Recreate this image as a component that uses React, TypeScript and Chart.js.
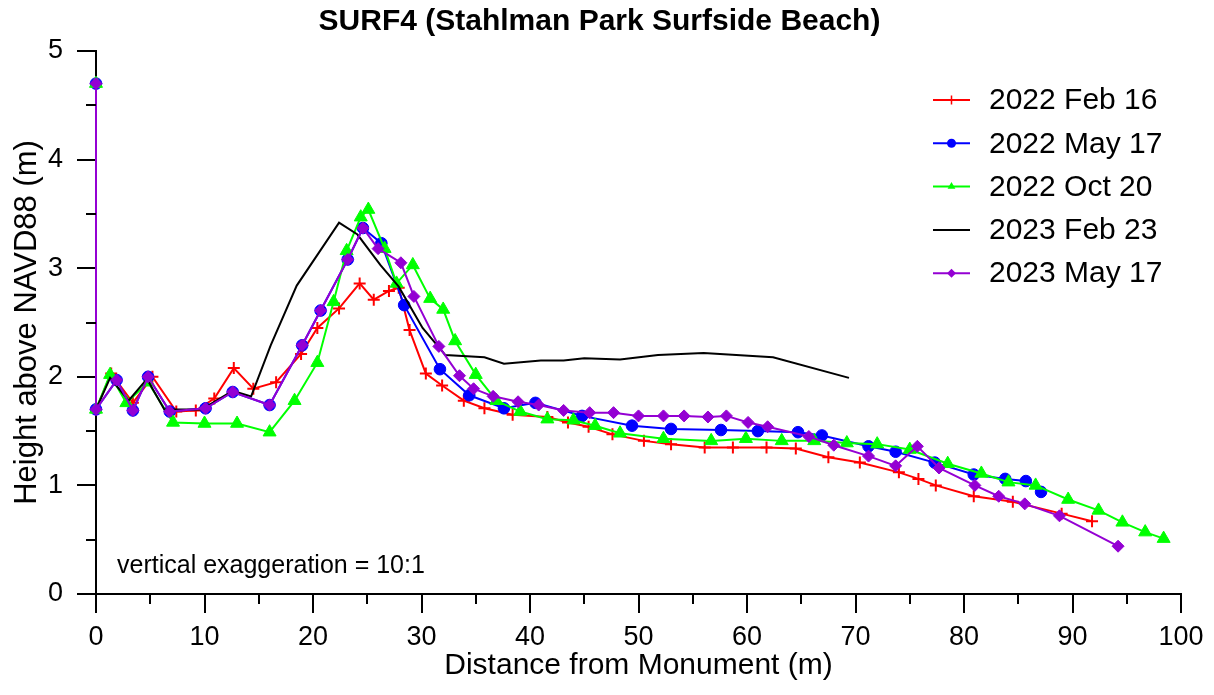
import React, { useEffect, useRef } from 'react';
import { Chart, registerables } from 'chart.js';

Chart.register(...registerables);

const FONT = "'Liberation Sans', Arial, sans-serif";

const chartTitle = 'SURF4 (Stahlman Park Surfside Beach)';
const xAxisTitle = 'Distance from Monument (m)';
const yAxisTitle = 'Height above NAVD88 (m)';
const noteText = 'vertical exaggeration = 10:1';

const xMajorTicks = [0, 10, 20, 30, 40, 50, 60, 70, 80, 90, 100];
const xMinorTicks = [5, 15, 25, 35, 45, 55, 65, 75, 85, 95];
const yMajorTicks = [0, 1, 2, 3, 4, 5];
const yMinorTicks = [0.5, 1.5, 2.5, 3.5, 4.5];

const seriesLabels = ['2022 Feb 16', '2022 May 17', '2022 Oct 20', '2023 Feb 23', '2023 May 17'];
const seriesColors = ['#FF0000', '#0000FF', '#00FF00', '#000000', '#9400D3'];
const seriesMarkers = ['cross', 'circle', 'triangle', 'none', 'rectRot'];

const feb2022X = [0, 0, 1.4, 3.4, 5.2, 7.4, 9.2, 10.9, 12.7, 14.5, 16.6, 18.9, 20.4, 22.4, 24.3, 25.6, 27.0, 27.9, 28.9, 30.4, 31.9, 33.9, 35.8, 38.4, 41.6, 43.5, 45.4, 47.6, 50.5, 53.0, 56.1, 58.7, 61.8, 64.5, 67.5, 70.4, 74.0, 75.8, 77.4, 80.9, 84.5, 89.0, 91.8];
const feb2022Y = [4.7, 1.7, 2.03, 1.76, 2.0, 1.68, 1.69, 1.80, 2.08, 1.89, 1.95, 2.21, 2.45, 2.63, 2.86, 2.71, 2.79, 2.82, 2.43, 2.03, 1.92, 1.78, 1.71, 1.65, 1.63, 1.58, 1.54, 1.47, 1.41, 1.38, 1.35, 1.35, 1.35, 1.34, 1.26, 1.21, 1.12, 1.06, 1.0, 0.90, 0.85, 0.74, 0.67];

const may2022X = [0, 0, 1.9, 3.4, 4.8, 6.8, 10.1, 12.6, 16.0, 19.0, 20.7, 23.2, 24.6, 26.3, 28.4, 31.7, 34.4, 37.6, 40.5, 44.8, 49.4, 53.0, 57.6, 61.0, 64.7, 66.9, 71.2, 73.7, 77.3, 80.9, 83.8, 85.7, 87.1];
const may2022Y = [4.7, 1.7, 1.97, 1.69, 2.0, 1.68, 1.71, 1.86, 1.74, 2.29, 2.61, 3.08, 3.37, 3.23, 2.66, 2.07, 1.83, 1.71, 1.76, 1.64, 1.55, 1.52, 1.51, 1.50, 1.49, 1.46, 1.36, 1.31, 1.21, 1.10, 1.06, 1.04, 0.94];

const oct2022X = [0, 0, 1.3, 2.8, 4.8, 7.1, 10.0, 13.0, 16.0, 18.3, 20.4, 21.9, 23.1, 24.4, 25.1, 26.6, 27.7, 29.2, 30.8, 32.0, 33.1, 35.0, 36.9, 39.1, 41.6, 44.0, 46.0, 48.3, 52.3, 56.7, 59.9, 63.2, 66.2, 69.2, 72.0, 75.0, 78.5, 81.6, 84.1, 86.6, 89.6, 92.4, 94.6, 96.7, 98.4];
const oct2022Y = [4.7, 1.7, 2.02, 1.76, 1.95, 1.58, 1.57, 1.57, 1.49, 1.78, 2.13, 2.69, 3.16, 3.47, 3.54, 3.18, 2.86, 3.03, 2.72, 2.62, 2.33, 2.02, 1.78, 1.68, 1.61, 1.60, 1.55, 1.48, 1.43, 1.41, 1.43, 1.41, 1.41, 1.39, 1.38, 1.33, 1.20, 1.11, 1.03, 1.00, 0.87, 0.77, 0.66, 0.57, 0.51];

const feb2023X = [0, 0, 1.3, 3.0, 4.7, 6.3, 9.5, 10.4, 12.6, 14.3, 16.1, 18.5, 22.4, 24.1, 26.2, 27.9, 30.1, 32.2, 35.8, 37.6, 41.0, 43.1, 45.0, 48.3, 51.8, 56.0, 62.4, 69.4];
const feb2023Y = [4.7, 1.7, 1.99, 1.78, 1.98, 1.70, 1.70, 1.74, 1.87, 1.82, 2.29, 2.84, 3.42, 3.31, 3.03, 2.83, 2.45, 2.20, 2.18, 2.12, 2.15, 2.15, 2.17, 2.16, 2.20, 2.22, 2.18, 1.99];

const may2023X = [0, 0, 1.9, 3.4, 4.8, 6.8, 10.1, 12.6, 16.0, 19.0, 20.7, 23.2, 24.6, 26.0, 28.1, 29.3, 31.6, 33.5, 34.8, 36.6, 38.9, 40.8, 43.1, 45.5, 47.7, 50.0, 52.3, 54.2, 56.4, 58.1, 60.1, 61.9, 65.7, 68.0, 71.2, 73.7, 75.7, 77.7, 81.0, 83.2, 85.6, 88.8, 94.2];
const may2023Y = [4.7, 1.7, 1.97, 1.69, 2.0, 1.68, 1.71, 1.86, 1.74, 2.29, 2.61, 3.08, 3.37, 3.18, 3.05, 2.74, 2.28, 2.01, 1.89, 1.82, 1.77, 1.74, 1.69, 1.67, 1.67, 1.64, 1.64, 1.64, 1.63, 1.64, 1.58, 1.54, 1.45, 1.37, 1.27, 1.18, 1.36, 1.16, 1.00, 0.90, 0.83, 0.72, 0.44];

const seriesX = [feb2022X, may2022X, oct2022X, feb2023X, may2023X];
const seriesY = [feb2022Y, may2022Y, oct2022Y, feb2023Y, may2023Y];

function drawMarker(ctx: CanvasRenderingContext2D, style: string, x: number, y: number, r: number, color: string) {
  ctx.save();
  ctx.fillStyle = color;
  ctx.strokeStyle = color;
  ctx.lineWidth = 1.5;
  ctx.beginPath();
  if (style === 'circle') {
    ctx.arc(x, y, r, 0, Math.PI * 2);
    ctx.fill();
  } else if (style === 'cross') {
    ctx.moveTo(x - r, y);
    ctx.lineTo(x + r, y);
    ctx.moveTo(x, y - r);
    ctx.lineTo(x, y + r);
    ctx.stroke();
  } else if (style === 'triangle') {
    ctx.moveTo(x, y - r);
    ctx.lineTo(x + r * 0.866, y + r * 0.5);
    ctx.lineTo(x - r * 0.866, y + r * 0.5);
    ctx.closePath();
    ctx.fill();
  } else if (style === 'rectRot') {
    ctx.moveTo(x - r, y);
    ctx.lineTo(x, y - r);
    ctx.lineTo(x + r, y);
    ctx.lineTo(x, y + r);
    ctx.closePath();
    ctx.fill();
  }
  ctx.restore();
}

const extrasPlugin = {
  id: 'extras',
  afterDraw(chart: any) {
    const ctx: CanvasRenderingContext2D = chart.ctx;
    const xs = chart.scales.x;
    const ys = chart.scales.y;
    const area = chart.chartArea;
    ctx.save();
    // minor ticks
    ctx.strokeStyle = '#000';
    ctx.lineWidth = 2;
    ctx.beginPath();
    xMinorTicks.forEach((v) => {
      const px = Math.round(xs.getPixelForValue(v));
      ctx.moveTo(px, area.bottom);
      ctx.lineTo(px, area.bottom + 10);
    });
    yMinorTicks.forEach((v) => {
      const py = Math.round(ys.getPixelForValue(v));
      ctx.moveTo(area.left - 10, py);
      ctx.lineTo(area.left, py);
    });
    ctx.stroke();

    // annotation
    ctx.fillStyle = '#000';
    ctx.font = `25px ${FONT}`;
    ctx.textAlign = 'left';
    ctx.textBaseline = 'middle';
    ctx.fillText(noteText, area.left + 21, area.bottom - 28);

    // legend
    const lx0 = 933;
    const lx1 = 970;
    const ty = 100;
    const dy = 43.3;
    chart.data.datasets.forEach((ds: any, i: number) => {
      const y = ty + i * dy;
      ctx.strokeStyle = seriesColors[i];
      ctx.lineWidth = 2;
      ctx.beginPath();
      ctx.moveTo(lx0, y);
      ctx.lineTo(lx1, y);
      ctx.stroke();
      drawMarker(ctx, seriesMarkers[i], (lx0 + lx1) / 2, y, 4.5, seriesColors[i]);
      ctx.fillStyle = '#000';
      ctx.font = `30px ${FONT}`;
      ctx.textAlign = 'left';
      ctx.textBaseline = 'middle';
      ctx.fillText(ds.label, 989, y + 1);
    });
    ctx.restore();
  },
};

export default function App() {
  const canvasRef = useRef<HTMLCanvasElement | null>(null);

  useEffect(() => {
    const canvas = canvasRef.current;
    if (!canvas) return;
    const datasets = seriesLabels.map((label, i) => {
      const marker = seriesMarkers[i];
      const radius = marker === 'none' ? 0 : marker === 'triangle' ? 7.5 : marker === 'cross' ? 6 : marker === 'rectRot' ? 6 : 5.8;
      return {
        label,
        data: seriesX[i].map((x, j) => ({ x, y: seriesY[i][j] })),
        showLine: true,
        borderColor: seriesColors[i],
        backgroundColor: seriesColors[i],
        borderWidth: 2,
        pointStyle: marker === 'none' ? 'circle' : marker,
        pointRadius: radius,
        pointBorderWidth: marker === 'cross' ? 2 : 1,
        pointBackgroundColor: seriesColors[i],
        pointBorderColor: seriesColors[i],
        tension: 0,
        clip: false as any,
        order: 5 - i,
      };
    });

    const chart = new Chart(canvas, {
      type: 'scatter',
      data: { datasets },
      options: {
        animation: false,
        responsive: false,
        devicePixelRatio: 1,
        events: [],
        layout: { padding: { top: 0, right: 33, bottom: 0, left: 18 } },
        plugins: {
          legend: { display: false },
          tooltip: { enabled: false },
          title: {
            display: true,
            text: chartTitle,
            color: '#000',
            font: { family: FONT, size: 30, weight: 'bold' },
            padding: { top: 4, bottom: 11 },
          },
        },
        scales: {
          x: {
            type: 'linear',
            min: 0,
            max: 100,
            afterBuildTicks: (scale: any) => {
              scale.ticks = xMajorTicks.map((v) => ({ value: v }));
            },
            afterFit: (scale: any) => {
              scale.height = 101;
            },
            ticks: {
              color: '#000',
              font: { family: FONT, size: 27 },
              padding: 8,
              maxRotation: 0,
              autoSkip: false,
            },
            grid: { drawOnChartArea: false, drawTicks: true, tickLength: 19, color: '#000', lineWidth: 2 },
            border: { display: true, color: '#000', width: 2 },
            title: {
              display: true,
              text: xAxisTitle,
              color: '#000',
              font: { family: FONT, size: 30 },
              padding: { top: 0, bottom: 11 },
            },
          },
          y: {
            type: 'linear',
            min: 0,
            max: 5,
            afterBuildTicks: (scale: any) => {
              scale.ticks = yMajorTicks.map((v) => ({ value: v }));
            },
            afterFit: (scale: any) => {
              scale.width = 78;
            },
            ticks: {
              color: '#000',
              font: { family: FONT, size: 27 },
              padding: 14,
              autoSkip: false,
            },
            grid: { drawOnChartArea: false, drawTicks: true, tickLength: 19, color: '#000', lineWidth: 2 },
            border: { display: true, color: '#000', width: 2 },
            title: {
              display: true,
              text: yAxisTitle,
              color: '#000',
              font: { family: FONT, size: 31 },
              padding: { top: -9, bottom: 0 },
            },
          },
        },
      },
      plugins: [extrasPlugin],
    });
    return () => chart.destroy();
  }, []);

  return (
    <div style={{ position: 'absolute', left: 0, top: 0, width: 1214, height: 695, background: '#fff' }}>
      <canvas ref={canvasRef} width={1214} height={695} style={{ display: 'block', width: 1214, height: 695 }} />
    </div>
  );
}
